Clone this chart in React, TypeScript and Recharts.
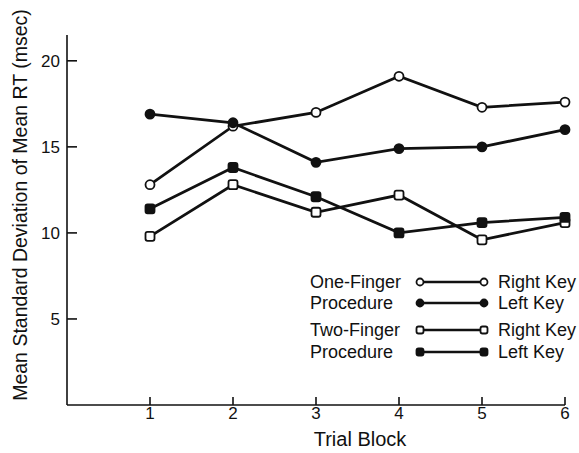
import { LineChart, Line, XAxis, YAxis } from 'recharts';

const trialBlocks = [1, 2, 3, 4, 5, 6];
const oneFingerRight = [12.8, 16.2, 17.0, 19.1, 17.3, 17.6];
const oneFingerLeft = [16.9, 16.4, 14.1, 14.9, 15.0, 16.0];
const twoFingerRight = [9.8, 12.8, 11.2, 12.2, 9.6, 10.6];
const twoFingerLeft = [11.4, 13.8, 12.1, 10.0, 10.6, 10.9];
const xTicks = [1, 2, 3, 4, 5, 6];
const yTicks = [5, 10, 15, 20];

const INK = '#111';
const FONT = "'Liberation Sans', Arial, sans-serif";

type Shape = 'circle' | 'square';

const series: { key: string; shape: Shape; filled: boolean; group: string; hand: string }[] = [
  { key: 'oneRight', shape: 'circle', filled: false, group: 'One-Finger', hand: 'Right Key' },
  { key: 'oneLeft', shape: 'circle', filled: true, group: 'Procedure', hand: 'Left Key' },
  { key: 'twoRight', shape: 'square', filled: false, group: 'Two-Finger', hand: 'Right Key' },
  { key: 'twoLeft', shape: 'square', filled: true, group: 'Procedure', hand: 'Left Key' },
];

const data = trialBlocks.map((block, i) => ({
  block,
  oneRight: oneFingerRight[i],
  oneLeft: oneFingerLeft[i],
  twoRight: twoFingerRight[i],
  twoLeft: twoFingerLeft[i],
}));

function Marker({ cx, cy, shape, filled, size }: { cx: number; cy: number; shape: Shape; filled: boolean; size: number }) {
  const fill = filled ? INK : '#fff';
  if (shape === 'circle') {
    return <circle cx={cx} cy={cy} r={size} fill={fill} stroke={INK} strokeWidth={1.8} />;
  }
  return (
    <rect
      x={cx - size}
      y={cy - size}
      width={size * 2}
      height={size * 2}
      rx={2}
      fill={fill}
      stroke={INK}
      strokeWidth={1.8}
    />
  );
}

// legend rows: y offsets inside the legend box
const legendRowY = [17, 38, 65, 87];

function LegendBox() {
  return (
    <svg width={279} height={100} style={{ fontFamily: FONT, display: 'block' }}>
      {series.map((s, i) => {
        const y = legendRowY[i];
        return (
          <g key={s.key}>
            <text x={10} y={y} dy="0.35em" fontSize={18} fill={INK}>
              {s.group}
            </text>
            <line x1={120} y1={y} x2={184} y2={y} stroke={INK} strokeWidth={2.6} />
            <Marker cx={120} cy={y} shape={s.shape} filled={s.filled} size={3.5} />
            <Marker cx={184} cy={y} shape={s.shape} filled={s.filled} size={3.5} />
            <text x={198} y={y} dy="0.35em" fontSize={18} fill={INK}>
              {s.hand}
            </text>
          </g>
        );
      })}
    </svg>
  );
}

export default function App() {
  return (
    <div style={{ position: 'absolute', left: 0, top: 0, width: 579, height: 453, background: '#fff', fontFamily: FONT }}>
      <LineChart width={579} height={453} data={data} margin={{ top: 35, right: 14, left: 0, bottom: 0 }}>
        <XAxis
          dataKey="block"
          type="number"
          domain={[0, 6]}
          ticks={xTicks}
          height={48}
          stroke={INK}
          strokeWidth={1.6}
          tickSize={-8}
          tickMargin={10}
          tick={{ fontSize: 17, fill: INK, fontFamily: FONT }}
          label={{ value: 'Trial Block', position: 'insideBottom', offset: 7, dx: 44, fontSize: 20, fill: INK, fontFamily: FONT }}
        />
        <YAxis
          type="number"
          domain={[0, 21.5]}
          ticks={yTicks}
          width={67}
          stroke={INK}
          strokeWidth={1.6}
          tickSize={-10}
          tickMargin={17}
          tick={{ fontSize: 17, fill: INK, fontFamily: FONT }}
          label={({ viewBox }: any) => {
            const cx = 20;
            const cy = viewBox.y + viewBox.height / 2 - 15;
            return (
              <text
                x={cx}
                y={cy}
                transform={`rotate(-90, ${cx}, ${cy})`}
                textAnchor="middle"
                dominantBaseline="central"
                fontSize={19.5}
                fill={INK}
                fontFamily={FONT}
              >
                Mean Standard Deviation of Mean RT (msec)
              </text>
            );
          }}
        />
        {series.map((s) => (
          <Line
            key={s.key}
            dataKey={s.key}
            stroke={INK}
            strokeWidth={2.8}
            isAnimationActive={false}
            dot={(p: any) => (
              <Marker key={`${s.key}-${p.index}`} cx={p.cx} cy={p.cy} shape={s.shape} filled={s.filled} size={4.5} />
            )}
            activeDot={false}
          />
        ))}
      </LineChart>
      <div style={{ position: 'absolute', left: 300, top: 265 }}>
        <LegendBox />
      </div>
    </div>
  );
}
